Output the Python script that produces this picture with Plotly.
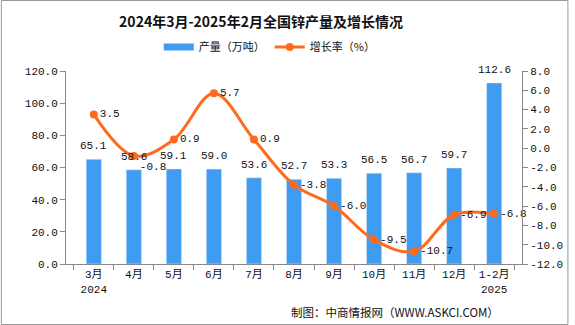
import plotly.graph_objects as go

categories = ["3月<br>2024", "4月", "5月", "6月", "7月", "8月", "9月", "10月", "11月", "12月", "1-2月<br>2025"]
production = [65.1, 58.6, 59.1, 59.0, 53.6, 52.7, 53.3, 56.5, 56.7, 59.7, 112.6]
growth = [3.5, -0.8, 0.9, 5.7, 0.9, -3.8, -6.0, -9.5, -10.7, -6.9, -6.8]
left_ticks = [0, 20, 40, 60, 80, 100, 120]
right_ticks = [-12, -10, -8, -6, -4, -2, 0, 2, 4, 6, 8]

BLUE = "#3F9CF1"
ORANGE = "#FF6A1C"
MONO = "Liberation Mono, Noto Sans CJK SC, monospace"
CJK = "Noto Sans CJK SC, sans-serif"
NUM = 11

W, H = 575, 325
L, R, T, B = 66, 47, 71, 61
pw, ph = W - L - R, H - T - B

growth_pos = ["middle right"] * len(growth)
growth_pos[1] = "bottom right"

fig = go.Figure()
fig.add_trace(go.Bar(
    x=categories, y=production, marker_color=BLUE, showlegend=False, yaxis="y",
))
fig.add_trace(go.Scatter(
    x=[None], y=[None], mode="lines", line=dict(color=BLUE, width=7),
    name="产量（万吨）", yaxis="y",
))
fig.add_trace(go.Scatter(
    x=categories, y=growth, mode="lines+markers+text", name="增长率（%）",
    line=dict(color=ORANGE, width=3, shape="spline", smoothing=1.0),
    marker=dict(color=ORANGE, size=8),
    text=[f"{v:.1f}" for v in growth], textposition=growth_pos,
    textfont=dict(family=MONO, size=NUM, color="#111"), cliponaxis=False, yaxis="y2",
))

annotations = [dict(text=f"{v:.1f}", x=c, y=v, xref="x", yref="y", yanchor="bottom",
                    yshift=5, showarrow=False, font=dict(family=MONO, size=NUM, color="#111"))
               for c, v in zip(categories, production)]
annotations.append(dict(text="制图：中商情报网（WWW.ASKCI.COM）", xref="paper", yref="paper",
                        x=(507 - L) / pw, xanchor="right", y=-(312 - (H - B)) / ph, yanchor="middle",
                        showarrow=False, font=dict(family=CJK, size=11.5, color="#111")))

fig.update_layout(
    width=W, height=H, margin=dict(l=L, r=R, t=T, b=B),
    paper_bgcolor="white", plot_bgcolor="white",
    bargap=0.62,
    font=dict(family=CJK, size=11, color="#111"),
    title=dict(text="<b>2024年3月-2025年2月全国锌产量及增长情况</b>",
               x=261 / W, xanchor="center", y=1 - 22 / H, yanchor="middle",
               font=dict(family=CJK, size=14, color="#111")),
    legend=dict(orientation="h", x=(160 - L) / pw, xanchor="left",
                y=(H - B - 47) / ph, yanchor="middle",
                font=dict(family=CJK, size=11, color="#111"),
                bgcolor="rgba(0,0,0,0)"),
    xaxis=dict(showline=True, linecolor="#888", ticks="outside", tickson="boundaries",
               tickcolor="#888", ticklen=5, showgrid=False, tickangle=0,
               tickfont=dict(family=MONO, size=NUM, color="#111")),
    yaxis=dict(range=[0, 120], tickvals=left_ticks, ticktext=[f"{v:.1f}" for v in left_ticks],
               showline=True, linecolor="#888", ticks="outside", tickcolor="#888", ticklen=5,
               showgrid=False, zeroline=False, tickfont=dict(family=MONO, size=NUM, color="#111")),
    yaxis2=dict(range=[-12, 8], tickvals=right_ticks, ticktext=[f"{v:.1f}" for v in right_ticks],
                overlaying="y", side="right",
                showline=True, linecolor="#888", ticks="outside", tickcolor="#888", ticklen=5,
                showgrid=False, zeroline=False, tickfont=dict(family=MONO, size=NUM, color="#111")),
    annotations=annotations,
    shapes=[dict(type="rect", xref="paper", yref="paper",
                 x0=(0.5 - L) / pw, x1=(W - 0.5 - L) / pw,
                 y0=-(B - 0.5) / ph, y1=1 + (T - 0.5) / ph,
                 line=dict(color="#999", width=1), layer="below")],
)

fig.write_html("out.html")
